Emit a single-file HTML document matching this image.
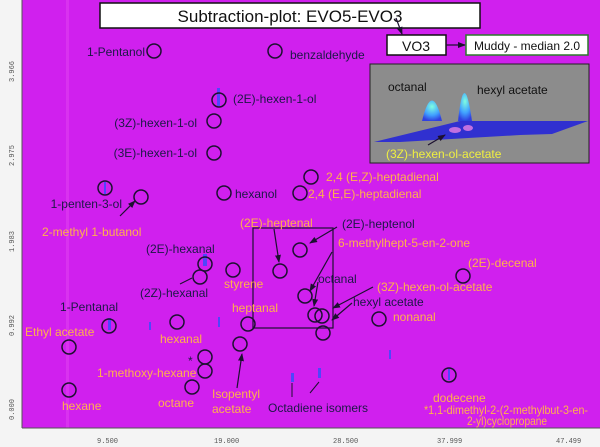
<!DOCTYPE html>
<html><head><meta charset="utf-8"><style>
html,body{margin:0;padding:0;background:#fff;}
svg{display:block;font-family:"Liberation Sans",sans-serif;}
.d{fill:#1c1846;font-size:12px;}
.o{fill:#ffb24a;font-size:12px;}
.c{fill:none;stroke:#1c1030;stroke-width:1.5;}
.ax{fill:#555;font-size:7px;font-family:"Liberation Mono",monospace;}
.ar{stroke:#1c1030;stroke-width:1.2;fill:none;marker-end:url(#ah);}
</style></head><body>
<svg width="600" height="447" viewBox="0 0 600 447">
<defs>
<marker id="ah" markerWidth="8" markerHeight="8" refX="7" refY="4" orient="auto" markerUnits="userSpaceOnUse"><path d="M0,1 L8,4 L0,7 z" fill="#1c1030"/></marker>
<radialGradient id="pk" cx="50%" cy="30%" r="70%"><stop offset="0" stop-color="#80ffe0"/><stop offset="0.6" stop-color="#40a0ff"/><stop offset="1" stop-color="#3040e0"/></radialGradient>
</defs>
<rect x="0" y="0" width="600" height="447" fill="#f4f4f4"/>
<rect x="22" y="0" width="578" height="428" fill="#d020ee"/>
<rect x="66" y="0" width="3" height="428" fill="#e040f0" opacity="0.6"/>
<line x1="22" y1="0" x2="22" y2="428" stroke="#555"/>
<line x1="22" y1="428" x2="600" y2="428" stroke="#555"/>
<text class="ax" transform="translate(14,82) rotate(-90)">3.966</text>
<text class="ax" transform="translate(14,166) rotate(-90)">2.975</text>
<text class="ax" transform="translate(14,252) rotate(-90)">1.983</text>
<text class="ax" transform="translate(14,336) rotate(-90)">0.992</text>
<text class="ax" transform="translate(14,420) rotate(-90)">0.000</text>
<text class="ax" x="97" y="443">9.500</text>
<text class="ax" x="214" y="443">19.000</text>
<text class="ax" x="333" y="443">28.500</text>
<text class="ax" x="437" y="443">37.999</text>
<text class="ax" x="556" y="443">47.499</text>
<rect x="100" y="3" width="380" height="25" fill="#fff" stroke="#111" stroke-width="1.5"/>
<text x="290" y="22" text-anchor="middle" font-size="17" fill="#111">Subtraction-plot: EVO5-EVO3</text>
<line class="ar" x1="396" y1="18" x2="402" y2="34"/>
<rect x="387" y="35" width="59" height="20" fill="#fff" stroke="#111" stroke-width="1.5"/>
<text x="416" y="51" text-anchor="middle" font-size="14" fill="#111">VO3</text>
<line class="ar" x1="446" y1="45" x2="465" y2="45"/>
<rect x="466" y="35" width="122" height="20" fill="#fff" stroke="#2a7a2a" stroke-width="1.5"/>
<text x="527" y="50" text-anchor="middle" font-size="12" fill="#111">Muddy - median 2.0</text>
<rect x="370" y="64" width="219" height="99" fill="#8c8c8c" stroke="#222"/>
<polygon points="374,142 460,121 588,121 552,134 520,135 400,142" fill="#3030d0"/>
<path d="M422,121 Q432,80 442,121 Z" fill="url(#pk)"/>
<path d="M458,121 Q464,65 472,121 Z" fill="url(#pk)"/>
<ellipse cx="455" cy="130" rx="6" ry="3" fill="#c070e0"/>
<ellipse cx="468" cy="128" rx="5" ry="3" fill="#c070e0"/>
<text x="388" y="91" font-size="12" fill="#111">octanal</text>
<text x="477" y="94" font-size="12" fill="#111">hexyl acetate</text>
<line class="ar" x1="428" y1="145" x2="445" y2="135"/>
<text x="386" y="158" font-size="12" fill="#f0f040">(3Z)-hexen-ol-acetate</text>
<rect x="253" y="228" width="80" height="100" fill="none" stroke="#1c1030" stroke-width="1.2"/>
<g fill="#3050ff" opacity="0.8">
<rect x="217" y="88" width="3" height="18"/><rect x="104" y="182" width="2" height="12"/>
<rect x="203" y="254" width="4" height="12"/><rect x="108" y="318" width="3" height="12"/>
<rect x="218" y="317" width="2" height="10"/><rect x="149" y="322" width="2" height="8"/>
<rect x="389" y="350" width="2" height="9"/><rect x="291" y="373" width="3" height="9"/>
<rect x="318" y="368" width="3" height="10"/><rect x="448" y="368" width="2" height="12"/>
</g>
<g class="c">
<circle cx="154" cy="51" r="7"/><circle cx="275" cy="51" r="7"/>
<circle cx="219" cy="100" r="7"/><circle cx="214" cy="121" r="7"/><circle cx="214" cy="153" r="7"/>
<circle cx="224" cy="193" r="7"/><circle cx="300" cy="193" r="7"/><circle cx="311" cy="177" r="7"/>
<circle cx="105" cy="188" r="7"/><circle cx="141" cy="197" r="7"/>
<circle cx="280" cy="271" r="7"/><circle cx="300" cy="250" r="7"/>
<circle cx="205" cy="264" r="7"/><circle cx="200" cy="277" r="7"/><circle cx="233" cy="270" r="7"/>
<circle cx="463" cy="276" r="7"/><circle cx="305" cy="296" r="7"/>
<circle cx="315" cy="315" r="7"/><circle cx="322" cy="316" r="7"/><circle cx="323" cy="333" r="7"/>
<circle cx="379" cy="319" r="7"/><circle cx="109" cy="326" r="7"/><circle cx="69" cy="347" r="7"/>
<circle cx="177" cy="322" r="7"/><circle cx="248" cy="324" r="7"/><circle cx="240" cy="344" r="7"/>
<circle cx="205" cy="357" r="7"/><circle cx="205" cy="371" r="7"/><circle cx="192" cy="387" r="7"/>
<circle cx="69" cy="390" r="7"/><circle cx="449" cy="375" r="7"/>
</g>
<line class="ar" x1="120" y1="216" x2="135" y2="201"/>
<line class="ar" x1="274" y1="229" x2="279" y2="262"/>
<line class="ar" x1="337" y1="227" x2="310" y2="243"/>
<line class="ar" x1="332" y1="252" x2="310" y2="291"/>
<line class="ar" x1="318" y1="282" x2="314" y2="306"/>
<line class="ar" x1="373" y1="287" x2="333" y2="308"/>
<line class="ar" x1="352" y1="303" x2="332" y2="320"/>
<line class="ar" x1="237" y1="388" x2="242" y2="354"/>
<line x1="180" y1="284" x2="192" y2="278" stroke="#1c1030"/>
<line x1="292" y1="383" x2="292" y2="397" stroke="#1c1030"/>
<line x1="310" y1="393" x2="319" y2="382" stroke="#1c1030"/>
<text class="d" x="145" y="56" text-anchor="end">1-Pentanol</text>
<text class="d" x="290" y="59">benzaldehyde</text>
<text class="d" x="233" y="103">(2E)-hexen-1-ol</text>
<text class="d" x="197" y="127" text-anchor="end">(3Z)-hexen-1-ol</text>
<text class="d" x="197" y="157" text-anchor="end">(3E)-hexen-1-ol</text>
<text class="d" x="235" y="198">hexanol</text>
<text class="o" x="326" y="181">2,4 (E,Z)-heptadienal</text>
<text class="o" x="308" y="198">2,4 (E,E)-heptadienal</text>
<text class="d" x="122" y="208" text-anchor="end">1-penten-3-ol</text>
<text class="o" x="42" y="236">2-methyl 1-butanol</text>
<text class="o" x="240" y="227">(2E)-heptenal</text>
<text class="d" x="342" y="228">(2E)-heptenol</text>
<text class="o" x="338" y="247">6-methylhept-5-en-2-one</text>
<text class="d" x="146" y="253">(2E)-hexanal</text>
<text class="d" x="140" y="297">(2Z)-hexanal</text>
<text class="o" x="224" y="288">styrene</text>
<text class="o" x="468" y="267">(2E)-decenal</text>
<text class="d" x="318" y="283">octanal</text>
<text class="o" x="377" y="291">(3Z)-hexen-ol-acetate</text>
<text class="d" x="353" y="306">hexyl acetate</text>
<text class="o" x="393" y="321">nonanal</text>
<text class="d" x="60" y="311">1-Pentanal</text>
<text class="o" x="25" y="336">Ethyl acetate</text>
<text class="o" x="160" y="343">hexanal</text>
<text class="o" x="232" y="312">heptanal</text>
<text class="d" x="188" y="365">*</text>
<text class="o" x="97" y="377">1-methoxy-hexane</text>
<text class="o" x="158" y="407">octane</text>
<text class="o" x="62" y="410">hexane</text>
<text class="o" x="212" y="398">Isopentyl</text>
<text class="o" x="212" y="413">acetate</text>
<text class="d" x="268" y="412">Octadiene isomers</text>
<text class="o" x="433" y="402">dodecene</text>
<text class="o" x="424" y="414" font-size="10" textLength="164" lengthAdjust="spacingAndGlyphs">*1,1-dimethyl-2-(2-methylbut-3-en-</text>
<text class="o" x="467" y="425" font-size="10" textLength="80" lengthAdjust="spacingAndGlyphs">2-yl)cyclopropane</text>
</svg>
</body></html>
